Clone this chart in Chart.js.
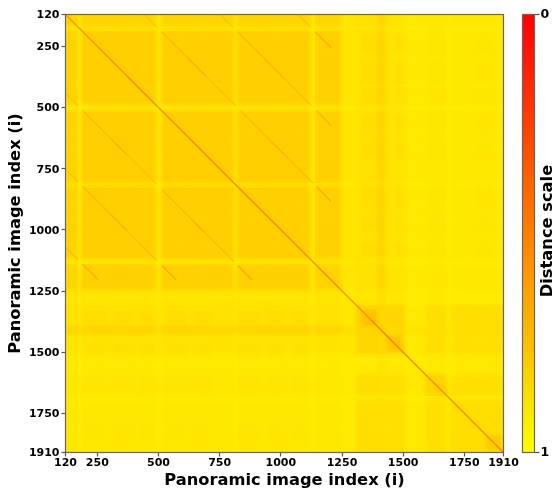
<!DOCTYPE html>
<html>
<head>
<meta charset="utf-8">
<script src="https://cdn.jsdelivr.net/npm/chart.js@4"></script>
<style>
  html, body { margin: 0; padding: 0; background: #fff; }
  #wrap { position: relative; width: 552px; height: 494px; overflow: hidden; }
  canvas { position: absolute; top: 0; display: block; }
</style>
</head>
<body>
<div id="wrap">
  <canvas id="heatmap" width="552" height="494" style="left:0"></canvas>
  <canvas id="colorbar" width="42" height="494" style="left:510px"></canvas>
</div>
<script>
// Axis ticks
const indexTicks = [120, 250, 500, 750, 1000, 1250, 1500, 1750, 1910];
const scaleTicks = [0, 1];

// Both axes share these bands (the picture is symmetric)
const bandEdges = [120, 172, 186, 493, 513, 810, 822, 1123, 1140, 1248, 1311, 1397, 1430, 1511, 1592, 1676, 1698, 1910];

// Distance read per band pair
const bandValues = [
  [.84, .92, .83, .92, .83, .92, .83, .92, .84, .90, .885, .84, .895, .915, .905, .92, .91],
  [.92, .93, .92, .93, .92, .93, .92, .93, .92, .915, .905, .88, .91, .93, .92, .93, .925],
  [.83, .92, .81, .92, .81, .92, .81, .92, .82, .90, .885, .84, .895, .915, .905, .92, .91],
  [.92, .93, .92, .93, .92, .93, .92, .93, .92, .915, .905, .88, .91, .93, .92, .93, .925],
  [.83, .92, .81, .92, .81, .92, .81, .92, .82, .90, .885, .84, .895, .915, .905, .92, .91],
  [.92, .93, .92, .93, .92, .93, .92, .93, .92, .915, .905, .88, .91, .93, .92, .93, .925],
  [.83, .92, .81, .92, .81, .92, .81, .92, .82, .90, .885, .84, .895, .915, .905, .92, .91],
  [.92, .93, .92, .93, .92, .93, .92, .93, .92, .915, .905, .88, .91, .93, .92, .93, .925],
  [.84, .92, .82, .92, .82, .92, .82, .92, .83, .90, .885, .84, .895, .915, .905, .92, .91],
  [.90, .915, .90, .915, .90, .915, .90, .915, .90, .915, .905, .875, .905, .925, .915, .93, .92],
  [.885, .905, .885, .905, .885, .905, .885, .905, .885, .905, .82, .84, .84, .915, .865, .915, .87],
  [.84, .88, .84, .88, .84, .88, .84, .88, .84, .875, .84, .83, .85, .895, .87, .90, .875],
  [.895, .91, .895, .91, .895, .91, .895, .91, .895, .905, .84, .85, .83, .915, .87, .915, .875],
  [.915, .93, .915, .93, .915, .93, .915, .93, .915, .925, .915, .895, .915, .925, .915, .93, .915],
  [.905, .92, .905, .92, .905, .92, .905, .92, .905, .915, .865, .87, .87, .915, .83, .915, .875],
  [.92, .93, .92, .93, .92, .93, .92, .93, .92, .93, .915, .90, .915, .93, .915, .935, .915],
  [.91, .925, .91, .925, .91, .925, .91, .925, .91, .92, .87, .875, .875, .915, .875, .915, .87]
];

// Darker patches near the diagonal: index from, index to, distance
const diagonalPatches = [
  [1335, 1395, .76],
  [1435, 1495, .78],
  [1630, 1680, .81],
  [1840, 1905, .80]
];

// Faint checks in the lower left blocks: from, to
const textureCols = [[200, 281], [315, 405], [424, 494], [533, 616], [642, 712], [821, 914], [947, 1009], [1050, 1110]];
const textureRows = [[1334, 1400, -.02], [1463, 1525, -.012], [1605, 1676, -.008], [1797, 1867, -.008]];

// Diagonal streaks, as index runs on the diagonal at a given offset: from, to, distance
const mainDiagonal = [
  [120, .58], [250, .56], [370, .52], [500, .54], [620, .52], [800, .52], [1000, .54], [1140, .52],
  [1250, .56], [1370, .48], [1460, .50], [1600, .54], [1700, .54], [1880, .52], [1910, .54]
];
const streakOffsets = [322, 632, 950];
const streakRuns = [
  [[120, 172, .76], [190, 300, .72], [300, 370, .68], [370, 492, .75], [514, 640, .72], [640, 690, .68], [690, 808, .72], [824, 883, .66]],
  [[120, 172, .76], [190, 300, .72], [300, 370, .69], [370, 492, .74], [514, 573, .67]],
  [[120, 172, .74], [190, 255, .67]]
];

const cellStep = 10;
const smoothOffsets = [-8, -4, 0, 4, 8];

function distanceColor(v) {
  return 'rgb(255,' + Math.round(255 * v) + ',0)';
}

function bandOf(i) {
  let b = 0;
  while (b < bandEdges.length - 2 && i >= bandEdges[b + 1]) b++;
  return b;
}

function inRange(v, r) {
  return v >= r[0] && v < r[1];
}

function rawValue(x, y) {
  let v = bandValues[bandOf(y)][bandOf(x)];
  for (const p of diagonalPatches) {
    if (inRange(x, p) && inRange(y, p)) v = p[2];
  }
  // checks only show up in the lower left and upper right
  const lo = Math.min(x, y), hi = Math.max(x, y);
  if (hi >= 1311 && lo < 1248) {
    for (const r of textureRows) {
      if (inRange(hi, r) && textureCols.some(c => inRange(lo, c))) v += r[2];
    }
  }
  return v;
}

// the original image is interpolated, so band edges are soft
function cellValue(x, y) {
  let sum = 0;
  for (const dy of smoothOffsets) {
    for (const dx of smoothOffsets) sum += rawValue(x + dx, y + dy);
  }
  return sum / (smoothOffsets.length * smoothOffsets.length);
}

const cells = [];
for (let y = 120 + cellStep / 2; y < 1910; y += cellStep) {
  for (let x = 120 + cellStep / 2; x < 1910; x += cellStep) {
    cells.push({ x: x, y: y, v: cellValue(x, y) });
  }
}

const datasets = [{
  data: cells,
  order: 10,
  pointStyle: 'rect',
  pointRadius: 2.2,
  pointBorderWidth: 0,
  pointBackgroundColor: cells.map(c => distanceColor(c.v)),
  showLine: false
}];

function streakDataset(points, width) {
  return {
    data: points,
    order: 1,
    showLine: true,
    pointRadius: 0,
    borderWidth: width,
    borderColor: distanceColor(points[0].v),
    segment: { borderColor: ctx => distanceColor(ctx.p0.raw.v) }
  };
}

datasets.push(streakDataset(mainDiagonal.map(p => ({ x: p[0], y: p[0], v: p[1] })), 1.4));

streakOffsets.forEach((d, k) => {
  streakRuns[k].forEach(r => {
    datasets.push(streakDataset([{ x: r[0], y: r[0] + d, v: r[2] }, { x: r[1], y: r[1] + d, v: r[2] }], 1.3));
    datasets.push(streakDataset([{ x: r[0] + d, y: r[0], v: r[2] }, { x: r[1] + d, y: r[1], v: r[2] }], 1.3));
  });
});

const boldFont = size => ({ family: '"DejaVu Sans"', size: size, weight: 'bold' });

// frame around the plot area
const frame = {
  id: 'frame',
  afterDraw(chart) {
    const a = chart.chartArea, c = chart.ctx;
    c.save();
    c.strokeStyle = '#666';
    c.lineWidth = 1.2;
    c.strokeRect(a.left, a.top, a.right - a.left, a.bottom - a.top);
    c.restore();
  }
};

new Chart(document.getElementById('heatmap'), {
  type: 'scatter',
  data: { datasets: datasets },
  plugins: [frame],
  options: {
    responsive: false,
    animation: false,
    layout: { padding: { top: 14.5, right: 48.5, left: 0, bottom: 0 } },
    plugins: { legend: { display: false }, tooltip: { enabled: false } },
    scales: {
      x: {
        type: 'linear',
        min: 120,
        max: 1910,
        afterBuildTicks: s => { s.ticks = indexTicks.map(v => ({ value: v })); },
        afterFit: s => { s.height = 41.5; },
        grid: { display: true, drawOnChartArea: false, tickLength: 4, tickColor: '#555', tickWidth: 1.2 },
        border: { display: false },
        ticks: { color: '#000', font: boldFont(11), padding: 0, maxRotation: 0, autoSkip: false, callback: v => String(v) },
        title: { display: true, text: 'Panoramic image index (i)', color: '#000', font: boldFont(16.3), padding: { top: 0, bottom: 3 } }
      },
      y: {
        type: 'linear',
        reverse: true,
        min: 120,
        max: 1910,
        afterBuildTicks: s => { s.ticks = indexTicks.map(v => ({ value: v })); },
        afterFit: s => { s.width = 65.5; },
        grid: { display: true, drawOnChartArea: false, tickLength: 4, tickColor: '#555', tickWidth: 1.2 },
        border: { display: false },
        ticks: { color: '#000', font: boldFont(11), padding: 2, labelOffset: 1, autoSkip: false, callback: v => String(v) },
        title: { display: true, text: 'Panoramic image index (i)', color: '#000', font: boldFont(16.3), padding: { top: 6, bottom: 0 } }
      }
    }
  }
});

// rotated the other way from what a right hand axis title gives
const scaleTitle = {
  id: 'scaleTitle',
  afterDraw(chart) {
    const c = chart.ctx;
    c.save();
    c.translate(38, 231);
    c.rotate(-Math.PI / 2);
    c.font = 'bold 16.3px "DejaVu Sans"';
    c.fillStyle = '#000';
    c.textAlign = 'center';
    c.textBaseline = 'middle';
    c.fillText('Distance scale', 0, 0);
    c.restore();
  }
};

new Chart(document.getElementById('colorbar'), {
  type: 'bar',
  data: {
    labels: ['Distance'],
    datasets: [{
      data: [1],
      barPercentage: 1,
      categoryPercentage: 1,
      backgroundColor(ctx) {
        const a = ctx.chart.chartArea;
        if (!a) return distanceColor(0.5);
        const y = ctx.chart.scales.y;
        const g = ctx.chart.ctx.createLinearGradient(0, y.getPixelForValue(0), 0, y.getPixelForValue(1));
        scaleTicks.forEach(v => g.addColorStop(v, distanceColor(v)));
        return g;
      }
    }]
  },
  plugins: [frame, scaleTitle],
  options: {
    responsive: false,
    animation: false,
    layout: { padding: { top: 14.5, left: 12.5, right: 0, bottom: 41.5 } },
    plugins: { legend: { display: false }, tooltip: { enabled: false } },
    scales: {
      x: { display: false },
      y: {
        position: 'right',
        reverse: true,
        min: 0,
        max: 1,
        afterBuildTicks: s => { s.ticks = scaleTicks.map(v => ({ value: v })); },
        afterFit: s => { s.width = 17.5; },
        grid: { display: true, drawOnChartArea: false, tickLength: 5, tickColor: '#555', tickWidth: 1.2 },
        border: { display: false },
        ticks: { color: '#000', font: boldFont(12.5), padding: 1, autoSkip: false, callback: v => String(v) }
      }
    }
  }
});
</script>
</body>
</html>
